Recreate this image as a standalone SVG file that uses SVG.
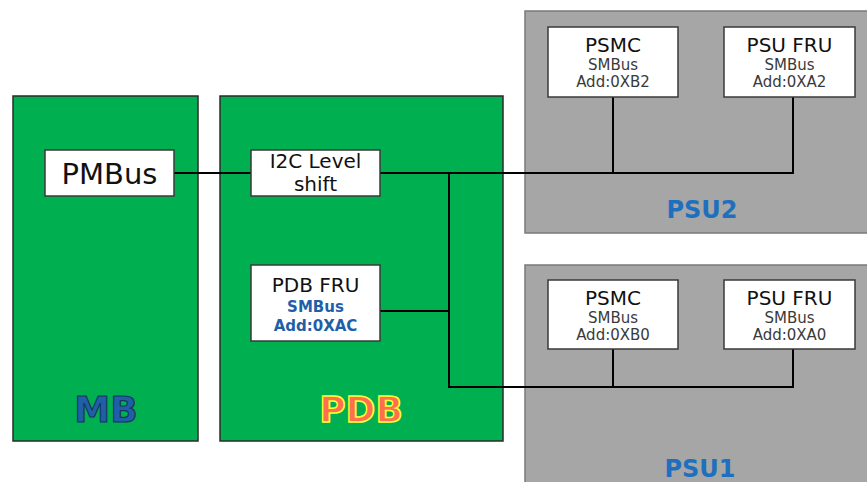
<svg xmlns="http://www.w3.org/2000/svg" width="867" height="482" viewBox="0 0 867 482">
<style>
.board{fill:#00B050;stroke:#2b2b2b;stroke-width:1.5}
.psu{fill:#A6A6A6;stroke:#7a7a7a;stroke-width:1.5}
.box{fill:#ffffff;stroke:#3a3a3a;stroke-width:1.5}
.t{font-family:"DejaVu Sans",Verdana,sans-serif;fill:#111;text-anchor:middle}
.s{font-family:"DejaVu Sans",Verdana,sans-serif;fill:#3a3a3a;text-anchor:middle;font-size:15px}
.sb{font-family:"DejaVu Sans",Verdana,sans-serif;fill:#1F5FA8;text-anchor:middle;font-size:15px;font-weight:bold}
.big{font-family:"DejaVu Sans",Verdana,sans-serif;font-weight:bold;text-anchor:middle}
.wire{fill:none;stroke:#000;stroke-width:2}
</style>
<rect width="867" height="482" fill="#ffffff"/>
<g id="MB">
<rect class="board" x="13" y="96" width="185" height="345"/>
<text class="big" x="106" y="422" font-size="36" fill="#1F5FA8" stroke="#17375E" stroke-width="1.2">MB</text>
</g>
<g id="PDB">
<rect class="board" x="220" y="96" width="283" height="345"/>
<text class="big" x="361" y="422" font-size="36" fill="#FF6F4F" stroke="#FFFF33" stroke-width="1.5">PDB</text>
</g>
<g id="PSU2">
<rect class="psu" x="525" y="11" width="350" height="222"/>
<text class="big" x="702" y="218" font-size="24" fill="#1F6FBF">PSU2</text>
</g>
<g id="PSU1">
<rect class="psu" x="525" y="265" width="350" height="230"/>
<text class="big" x="700" y="477" font-size="24" fill="#1F6FBF">PSU1</text>
</g>
<g id="connectors">
<path class="wire" d="M174 173 H251"/>
<path class="wire" d="M380 173 H793 V97"/>
<path class="wire" d="M613 97 V173"/>
<path class="wire" d="M449 173 V387 H793 V349"/>
<path class="wire" d="M613 349 V387"/>
<path class="wire" d="M380 311 H449"/>
</g>
<g id="PMBus">
<rect class="box" x="45" y="150" width="129" height="46"/>
<text class="t" x="109.5" y="184" font-size="29">PMBus</text>
</g>
<g id="I2C">
<rect class="box" x="251" y="150" width="129" height="46"/>
<text class="t" x="315.5" y="168" font-size="20">I2C Level</text>
<text class="t" x="315.5" y="191" font-size="20">shift</text>
</g>
<g id="PDBFRU">
<rect class="box" x="251" y="265" width="129" height="76"/>
<text class="t" x="315.5" y="292" font-size="20">PDB FRU</text>
<text class="sb" x="315.5" y="312">SMBus</text>
<text class="sb" x="315.5" y="331">Add:0XAC</text>
</g>
<g id="PSMC2">
<rect class="box" x="548" y="27" width="130" height="70"/>
<text class="t" x="613" y="52" font-size="20">PSMC</text>
<text class="s" x="613" y="70">SMBus</text>
<text class="s" x="613" y="87">Add:0XB2</text>
</g>
<g id="PSUFRU2">
<rect class="box" x="724" y="27" width="131" height="70"/>
<text class="t" x="789.5" y="52" font-size="20">PSU FRU</text>
<text class="s" x="789.5" y="70">SMBus</text>
<text class="s" x="789.5" y="87">Add:0XA2</text>
</g>
<g id="PSMC1">
<rect class="box" x="548" y="280" width="130" height="69"/>
<text class="t" x="613" y="305" font-size="20">PSMC</text>
<text class="s" x="613" y="323">SMBus</text>
<text class="s" x="613" y="340">Add:0XB0</text>
</g>
<g id="PSUFRU1">
<rect class="box" x="724" y="280" width="131" height="69"/>
<text class="t" x="789.5" y="305" font-size="20">PSU FRU</text>
<text class="s" x="789.5" y="323">SMBus</text>
<text class="s" x="789.5" y="340">Add:0XA0</text>
</g>
</svg>
